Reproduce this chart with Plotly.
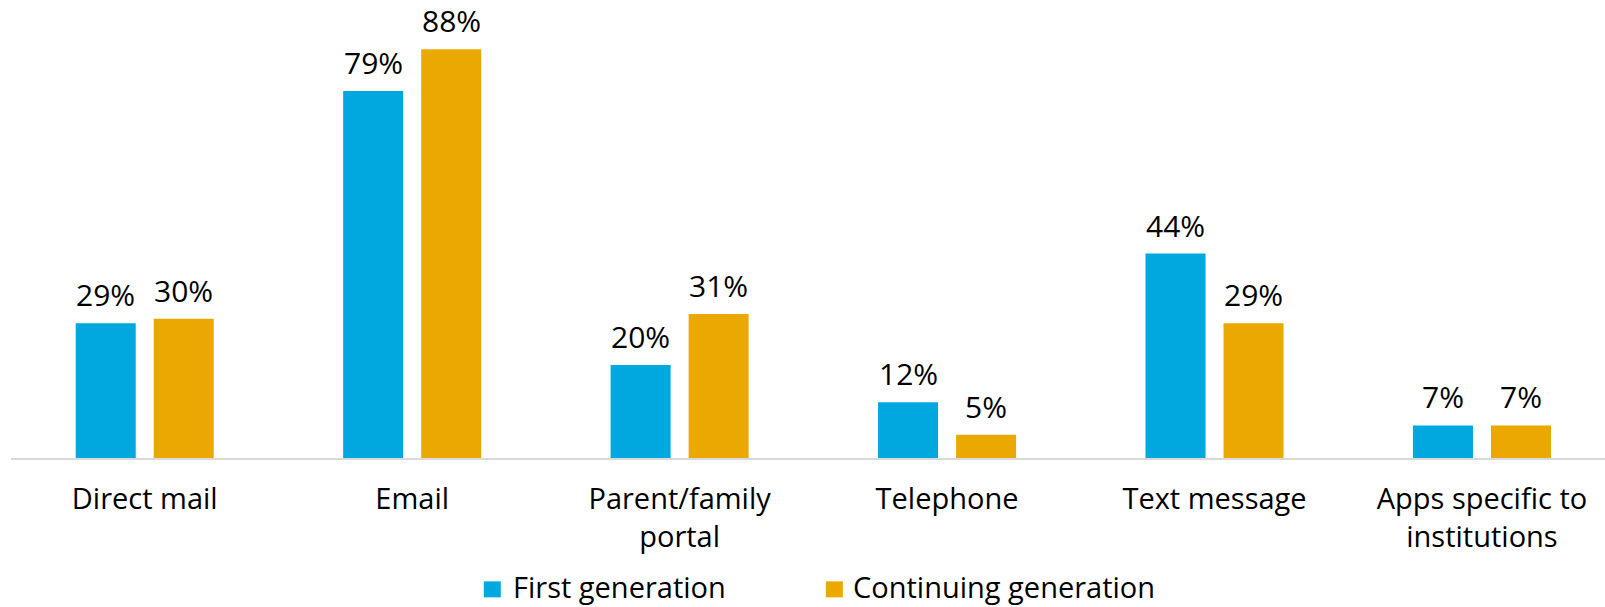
import plotly.graph_objects as go

# Communication channels and share of respondents using each (%)
categories = ["Direct mail", "Email", "Parent/family<br>portal", "Telephone",
              "Text message", "Apps specific to<br>institutions"]
first_generation = [29, 79, 20, 12, 44, 7]
continuing_generation = [30, 88, 31, 5, 29, 7]
series_names = ["First generation", "Continuing generation"]
series_colors = ["#00A8E0", "#EBA900"]

FONT = "Open Sans"
BARGAP = 0.4166
BARGROUPGAP = 0.2308

# figure geometry (pixels)
W, H = 1605, 607
M_L, M_R, M_T, M_B = 11.3, 0, 0, 148.5
PLOT_W = W - M_L - M_R
PLOT_H = H - M_T - M_B


def px_x(px):
    return (px - M_L) / PLOT_W


def px_y(py):
    return (H - M_B - py) / PLOT_H


fig = go.Figure()
series = [first_generation, continuing_generation]
for name, vals, color in zip(series_names, series, series_colors):
    fig.add_trace(go.Bar(x=categories, y=vals, name=name, marker_color=color,
                         marker_line_width=0, showlegend=False,
                         hoverinfo="x+y"))

# value labels above each bar, centred on the bar within its group
half_slot = (1 - BARGAP) / 4
annotations = []
for k, vals in enumerate(series):
    shift = -half_slot if k == 0 else half_slot
    for i, v in enumerate(vals):
        annotations.append(dict(x=i + shift, y=v, xref="x", yref="y",
                                text=f"{v}%", showarrow=False,
                                yanchor="bottom", yshift=6,
                                font=dict(family=FONT, size=30, color="#000000")))

# key below the axis: coloured swatch followed by series name
shapes = []
key_swatch_left = [484, 826]
key_text_left = [511, 851]
for name, color, sx, tx in zip(series_names, series_colors,
                               key_swatch_left, key_text_left):
    shapes.append(dict(type="rect", xref="paper", yref="paper",
                       x0=px_x(sx), x1=px_x(sx + 17),
                       y0=px_y(598), y1=px_y(582),
                       fillcolor=color, line=dict(width=0)))
    annotations.append(dict(x=px_x(tx), y=px_y(587), xref="paper", yref="paper",
                            text=name, showarrow=False, xanchor="left",
                            yanchor="middle",
                            font=dict(family=FONT, size=29, color="#000000")))

fig.update_layout(
    width=W, height=H,
    margin=dict(l=M_L, r=M_R, t=M_T, b=M_B, autoexpand=False),
    paper_bgcolor="white", plot_bgcolor="white",
    barmode="group", bargap=BARGAP, bargroupgap=BARGROUPGAP,
    font=dict(family=FONT, size=29, color="#000000"),
    showlegend=False,
    xaxis=dict(range=[-0.5, 5.46], showline=True, linecolor="#D9D9D9",
               linewidth=2, showgrid=False, ticks="", ticklabelstandoff=14,
               tickfont=dict(family=FONT, size=29, color="#000000")),
    yaxis=dict(range=[0, 98.6], visible=False, showgrid=False, zeroline=False),
    shapes=shapes,
    annotations=annotations,
)

fig.write_html("out.html")
